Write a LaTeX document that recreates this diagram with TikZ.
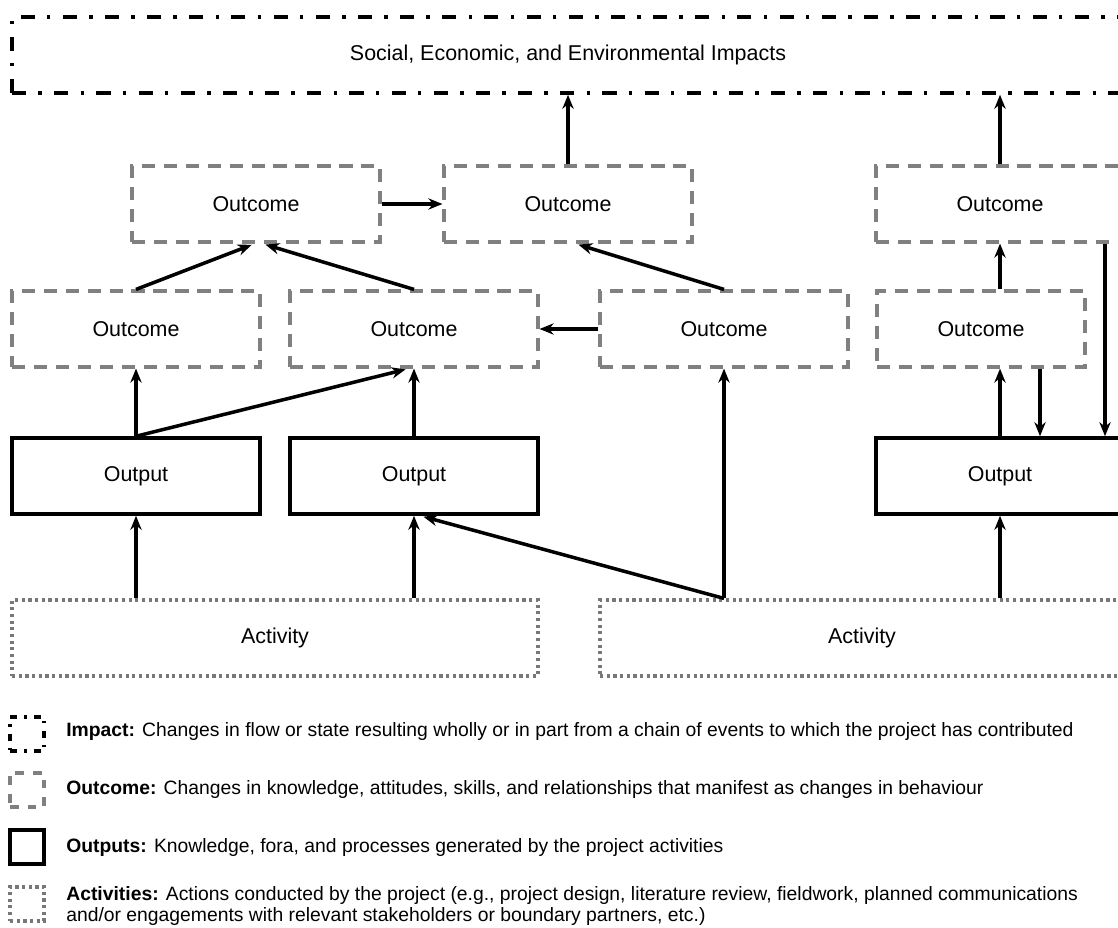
\documentclass[tikz,border=0pt]{standalone}
\usepackage{fontspec}
\setmainfont{Liberation Sans}
\usetikzlibrary{arrows.meta}
\definecolor{boxgray}{RGB}{128,128,128}
\definecolor{dotgray}{RGB}{120,120,120}

\begin{document}
\begin{tikzpicture}[x=0.02cm,y=-0.02cm,font=\fontsize{12.2}{14}\selectfont,
  impactbox/.style={draw=black,line width=2pt,dash pattern=on 8pt off 7pt on 2pt off 7pt,
    minimum height=1.52cm,inner sep=0pt},
  outcomebox/.style={draw=boxgray,line width=1.8pt,dash pattern=on 7.5pt off 5pt,
    minimum width=4.96cm,minimum height=1.52cm,inner sep=0pt},
  outputbox/.style={draw=black,line width=2pt,minimum width=4.96cm,minimum height=1.52cm,inner sep=0pt},
  activitybox/.style={draw=dotgray,line width=1.8pt,dash pattern=on 1.8pt off 2pt,
    minimum height=1.52cm,inner sep=0pt},
  arr/.style={line width=2pt,-{Stealth[length=8pt,width=6.4pt]}},
  legtext/.style={anchor=west,align=left,inner sep=0pt,font=\fontsize{11}{12}\selectfont}]
  \useasboundingbox (0,0) rectangle (1118,928);
  \clip (0,0) rectangle (1118,928);
  \node[impactbox,minimum width=22.24cm] (imp) at (568,55) {Social, Economic, and Environmental Impacts};
  \node[outcomebox] (oc1) at (256,204) {Outcome};
  \node[outcomebox] (oc2) at (568,204) {Outcome};
  \node[outcomebox] (oc3) at (1000,204) {Outcome};
  \node[outcomebox] (oc4) at (136,329) {Outcome};
  \node[outcomebox] (oc5) at (414,329) {Outcome};
  \node[outcomebox] (oc6) at (724,329) {Outcome};
  \node[outcomebox,minimum width=4.16cm] (oc7) at (981,329) {Outcome};
  \node[outputbox] (op1) at (136,476) {Output};
  \node[outputbox] (op2) at (414,476) {Output};
  \node[outputbox] (op3) at (1000,476) {Output};
  \node[activitybox,minimum width=10.52cm] (ac1) at (275,638) {Activity};
  \node[activitybox,minimum width=10.48cm] (ac2) at (862,638) {Activity};
  \coordinate (gx) at (1040,0);
  \coordinate (rx) at (1105,0);
  \draw[arr] (oc2.north) -- (oc2.north |- imp.south);
  \draw[arr] (oc3.north) -- (oc3.north |- imp.south);
  \draw[arr] (oc1.east) -- (oc2.west);
  \draw[arr,shorten >=2pt] (oc4.north) -- ([xshift=-0.02cm]oc1.south);
  \draw[arr,shorten >=2pt] (oc5.north) -- ([xshift=0.12cm]oc1.south);
  \draw[arr,shorten >=2pt] (oc6.north) -- ([xshift=0.14cm]oc2.south);
  \draw[arr] (oc6.west) -- (oc5.east);
  \draw[arr] (oc7.north -| oc3.south) -- (oc3.south);
  \draw[arr] (op1.north) -- (oc4.south);
  \draw[arr,shorten >=2pt] (op1.north) -- ([xshift=-0.1cm]oc5.south);
  \draw[arr] (op2.north) -- (oc5.south);
  \draw[arr] (op3.north) -- (op3.north |- oc7.south);
  \draw[arr] (oc7.south -| gx) -- (op3.north -| gx);
  \draw[arr] (oc3.south -| rx) -- (op3.north -| rx);
  \draw[arr] (ac1.north -| op1.south) -- (op1.south);
  \draw[arr] (ac1.north -| op2.south) -- (op2.south);
  \draw[arr] (ac2.north -| oc6.south) -- (oc6.south);
  \draw[arr,shorten >=2pt] (ac2.north -| oc6.south) -- ([xshift=0.12cm]op2.south);
  \draw[arr] (ac2.north -| op3.south) -- (op3.south);
  \node[impactbox,minimum width=0.68cm,minimum height=0.68cm,dash pattern=on 4pt off 4pt on 1.5pt off 4pt] (limp) at (27,734) {};
  \node[outcomebox,minimum width=0.68cm,minimum height=0.68cm,dash pattern=on 5pt off 5pt] (loc) at (27,790) {};
  \node[outputbox,minimum width=0.68cm,minimum height=0.68cm] (lop) at (27,847) {};
  \node[activitybox,minimum width=0.68cm,minimum height=0.68cm] (lac) at (27,904) {};
  \node[legtext] (timp) at (66,731) {\textbf{Impact:} Changes in flow or state resulting wholly or in part from a chain of events to which the project has contributed};
  \node[legtext] (toc) at (66,789) {\textbf{Outcome:} Changes in knowledge, attitudes, skills, and relationships that manifest as changes in behaviour};
  \node[legtext] (top) at (66,847) {\textbf{Outputs:} Knowledge, fora, and processes generated by the project activities};
  \node[legtext] (tac) at (66,906) {\textbf{Activities:} Actions conducted by the project (e.g., project design, literature review, fieldwork, planned communications\\and/or engagements with relevant stakeholders or boundary partners, etc.)};
\end{tikzpicture}
\end{document}
